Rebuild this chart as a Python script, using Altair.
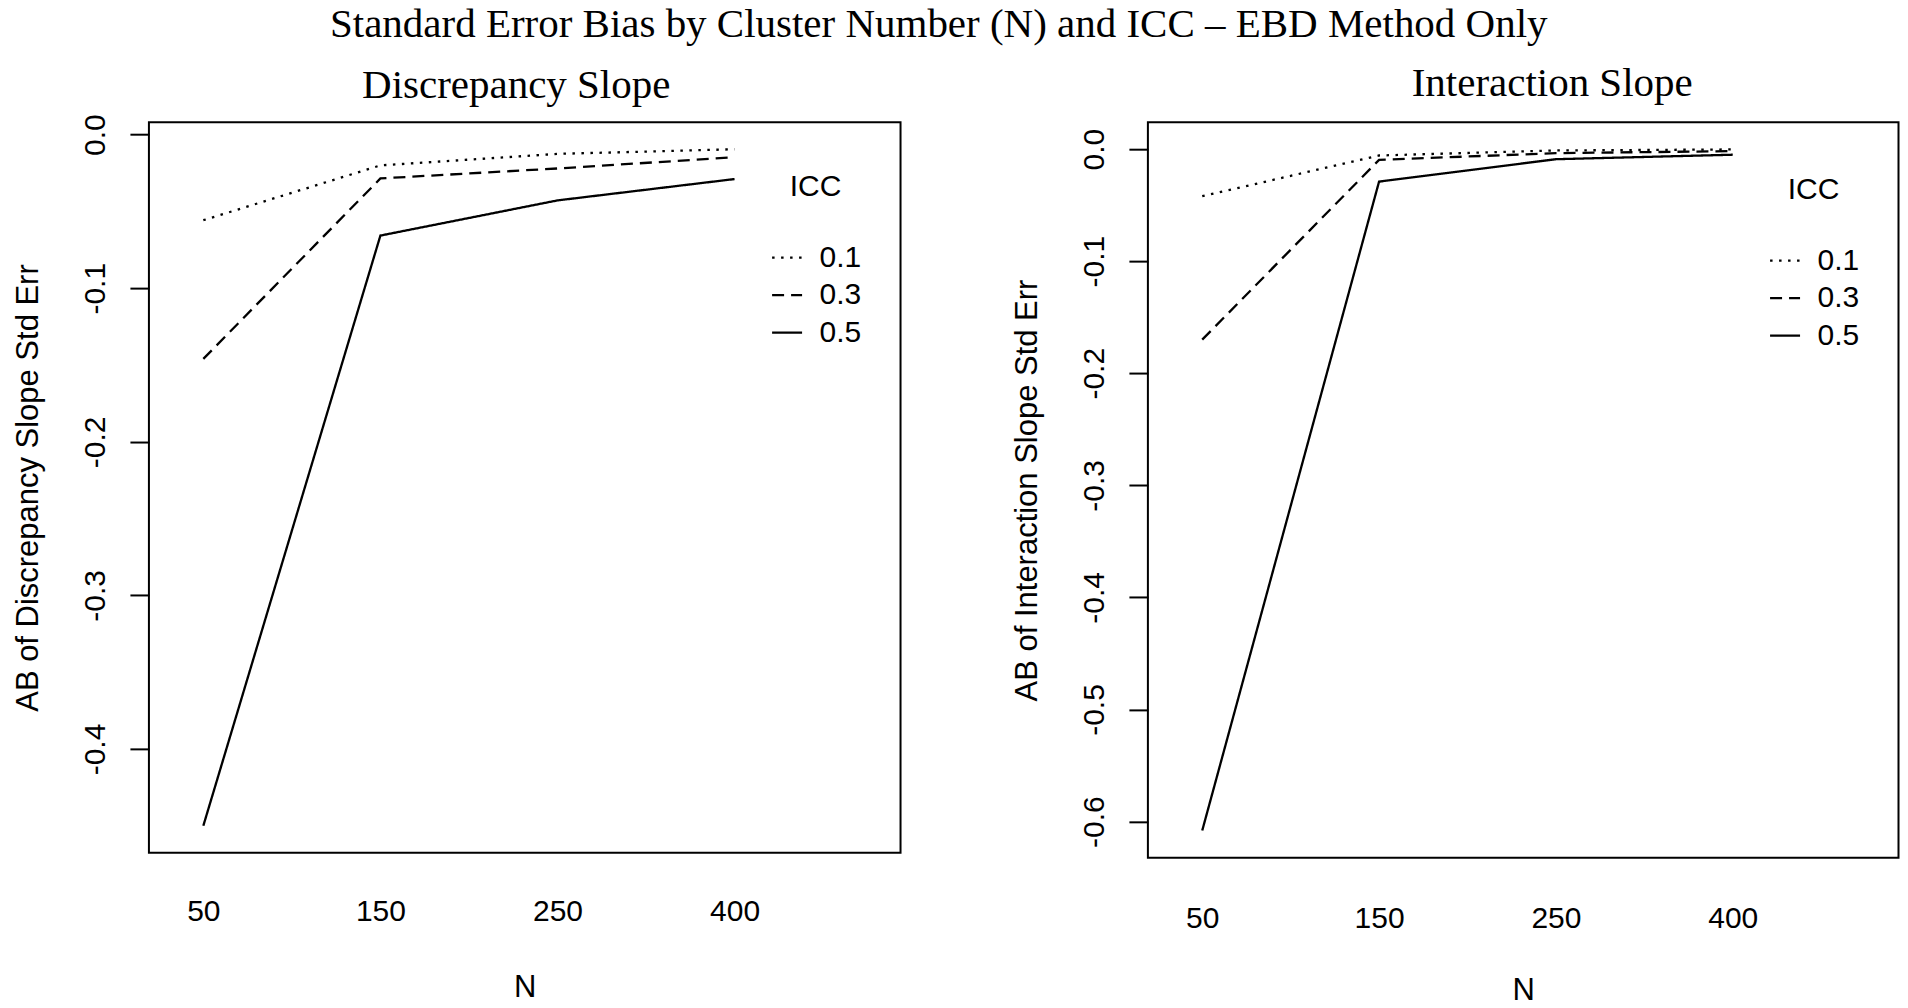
import json
import altair as alt
import pandas as pd

# ---- data ----
N_levels = ["50", "150", "250", "400"]
ICC_levels = ["0.1", "0.3", "0.5"]

disc_icc01 = [-0.0557, -0.0200, -0.0125, -0.0095]
disc_icc03 = [-0.1460, -0.0285, -0.0220, -0.0147]
disc_icc05 = [-0.4500, -0.0657, -0.0428, -0.0289]

int_icc01 = [-0.0420, -0.0057, -0.0012, -0.0003]
int_icc03 = [-0.1700, -0.0096, -0.0036, -0.0018]
int_icc05 = [-0.6080, -0.0290, -0.0090, -0.0050]

disc_ticks = [0.0, -0.1, -0.2, -0.3, -0.4]
int_ticks = [0.0, -0.1, -0.2, -0.3, -0.4, -0.5, -0.6]

main_title = "Standard Error Bias by Cluster Number (N) and ICC \u2013 EBD Method Only"

SANS = "Liberation Sans"
SERIF = "Liberation Serif"
DASHES = [[2.5, 6.5], [12, 7], [1, 0]]


def build(series, ticks, ytitle, title, dx, toff, w, h, legx, legy, xlp, xtp):
    rows = []
    for icc, vals in zip(ICC_levels, series):
        for i, (n, v) in enumerate(zip(N_levels, vals)):
            rows.append({"pos": i + 1, "N": n, "ICC": icc, "value": v})
    df = pd.DataFrame(rows)
    allv = [v for vals in series for v in vals]
    lo, hi = min(allv), max(allv)
    r = hi - lo
    ydom = [lo - 0.04 * r, hi + 0.04 * r]
    k = len(N_levels)
    x0, x1 = 1 - 0.2 / k * (k - 1), k + (0.2 + 0.02 * 3) * (k - 1)
    xr = x1 - x0
    xdom = [x0 - 0.04 * xr, x1 + 0.04 * xr]
    xlabels = json.dumps(N_levels).replace('"', "'")
    return alt.Chart(df).mark_line(color="black", strokeWidth=2.3, strokeCap="butt").encode(
        x=alt.X("pos:Q",
                scale=alt.Scale(domain=xdom, nice=False, zero=False),
                axis=alt.Axis(values=list(range(1, k + 1)),
                              labelExpr=f"{xlabels}[datum.value - 1]",
                              title="N", ticks=False, domain=False, grid=False,
                              labelPadding=xlp, titlePadding=xtp,
                              labelFontSize=30, titleFontSize=31)),
        y=alt.Y("value:Q",
                scale=alt.Scale(domain=ydom, nice=False, zero=False),
                axis=alt.Axis(values=ticks,
                              labelExpr="datum.value == 0 ? '0.0' : '-' + format(-datum.value, '.1f')",
                              title=ytitle, grid=False, domain=False,
                              tickSize=19, tickWidth=2, tickColor="black",
                              labelAngle=270, labelAlign="center", labelBaseline="bottom",
                              labelPadding=19, titlePadding=36,
                              labelFontSize=30, titleFontSize=31)),
        strokeDash=alt.StrokeDash("ICC:N",
                                  scale=alt.Scale(domain=ICC_levels, range=DASHES),
                                  legend=alt.Legend(orient="none", legendX=legx, legendY=legy,
                                                    title="ICC", titleFontSize=30, titleFont=SANS,
                                                    titleFontWeight="normal", titleColor="black",
                                                    titlePadding=39, titleAnchor="middle",
                                                    labelFontSize=30, labelFont=SANS, labelColor="black",
                                                    symbolType="stroke", symbolSize=900,
                                                    symbolStrokeWidth=2.3, symbolStrokeColor="black",
                                                    labelOffset=16, rowPadding=5.5, padding=0)),
    ).properties(
        width=w, height=h,
        title=alt.TitleParams(title, font=SERIF, fontSize=41, fontWeight="normal",
                              color="black", dx=dx, offset=toff),
    )


left = build([disc_icc01, disc_icc03, disc_icc05], disc_ticks,
             "AB of Discrepancy Slope Std Err", "Discrepancy Slope",
             -8.5, 7, 752, 731, 622, 50, 43.6, 46.3)
right = build([int_icc01, int_icc03, int_icc05], int_ticks,
              "AB of Interaction Slope Std Err", "Interaction Slope",
              29, 16.8, 751, 736, 621, 53, 45.5, 42.4)

chart = alt.hconcat(left, right, spacing=109.5).resolve_scale(
    strokeDash="independent", x="independent", y="independent"
).resolve_legend(strokeDash="independent").properties(
    title=alt.TitleParams(main_title, font=SERIF, fontSize=41, fontWeight="normal",
                          color="black", anchor="middle", offset=16, dx=-17),
    padding={"left": 4, "top": -4, "right": 0, "bottom": 0},
).configure_view(stroke="black", strokeWidth=2).configure_axis(
    labelFont=SANS, titleFont=SANS, labelColor="black", titleColor="black",
    titleFontWeight="normal"
)

chart.save("out.html", embed_options={"renderer": "svg", "actions": False})
